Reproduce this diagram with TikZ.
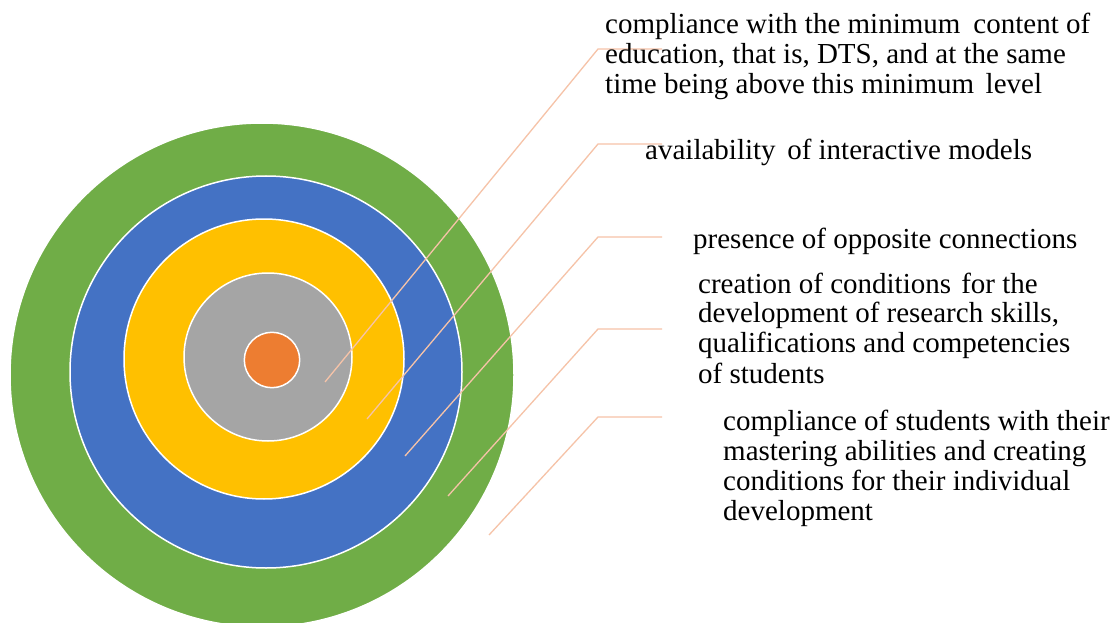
\documentclass[tikz,border=0pt]{standalone}
\usepackage{fontspec}
\setmainfont{Liberation Serif}
\newfontfamily\lserif{Liberation Serif}
\definecolor{cgreen}{HTML}{70AD47}
\definecolor{cblue}{HTML}{4472C4}
\definecolor{cgold}{HTML}{FFC000}
\definecolor{cgray}{HTML}{A5A5A5}
\definecolor{corange}{HTML}{ED7D31}
\definecolor{cleader}{HTML}{F6C3A8}
\begin{document}
\begin{tikzpicture}[x=1pt,y=-1pt,
  ring/.style={draw=white,line width=1.5pt},
  leader/.style={draw=cleader,line width=1.3pt},
  lbl/.style={anchor=base west,inner sep=0pt,font=\lserif\fontsize{29}{30}\selectfont}]
\useasboundingbox[fill=white] (0,0) rectangle (1117,623);
% rings
\fill[ring,fill=cgreen] (262,375) circle (252);
\fill[ring,fill=cblue] (266,372) circle (196);
\fill[ring,fill=cgold] (264,359) circle (140);
\fill[ring,fill=cgray] (268,357) circle (84);
\fill[ring,fill=corange] (272,360) circle (27.7);
% leader coordinates
\coordinate (s1) at (325,382); \coordinate (k1) at (598,49);  \coordinate (e1) at (662,49);
\coordinate (s2) at (367,419); \coordinate (k2) at (598,144); \coordinate (e2) at (662,144);
\coordinate (s3) at (405,456); \coordinate (k3) at (598,237); \coordinate (e3) at (662,237);
\coordinate (s4) at (448,496); \coordinate (k4) at (598,329); \coordinate (e4) at (662,329);
\coordinate (s5) at (489,535); \coordinate (k5) at (598,417); \coordinate (e5) at (662,417);
\draw[leader] (s1) -- (k1) -- (e1);
\draw[leader] (s2) -- (k2) -- (e2);
\draw[leader] (s3) -- (k3) -- (e3);
\draw[leader] (s4) -- (k4) -- (e4);
\draw[leader] (s5) -- (k5) -- (e5);
% labels
\node[lbl] (a1) at (605,34) {compliance with the minimum\hspace{0.2em} content of};
\node[lbl] (a2) at (605,64) {education, that is, DTS, and at the same};
\node[lbl] (a3) at (605,94) {time being above this minimum\hspace{0.15em} level};
\node[lbl] (b1) at (645,160) {availability\hspace{0.15em} of interactive models};
\node[lbl] (c1) at (693,248) {presence of opposite connections};
\node[lbl] (d1) at (698,293) {creation of conditions\hspace{0.1em} for the};
\node[lbl] (d2) at (698,322) {development of research skills,};
\node[lbl] (d3) at (698,352) {qualifications and competencies};
\node[lbl] (d4) at (698,383) {of students};
\node[lbl] (f1) at (723,430) {compliance of students with their};
\node[lbl] (f2) at (723,460) {mastering abilities and creating};
\node[lbl] (f3) at (723,490) {conditions for their individual};
\node[lbl] (f4) at (723,520) {development};
\end{tikzpicture}
\end{document}
